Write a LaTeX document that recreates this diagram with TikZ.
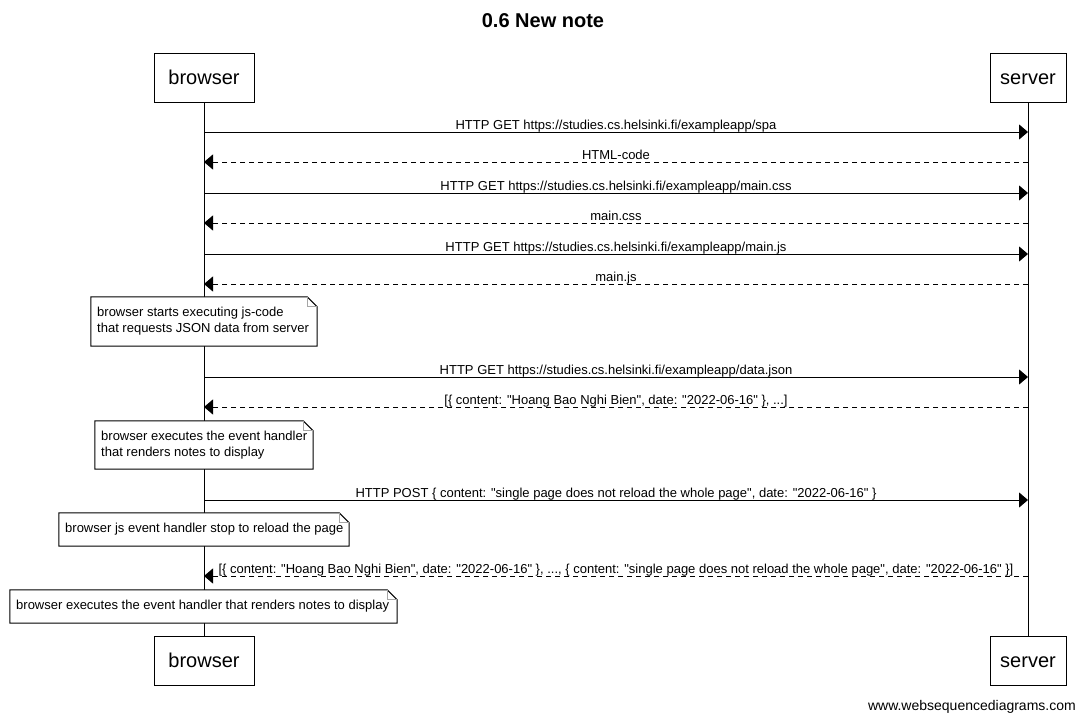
\documentclass[tikz,border=0pt]{standalone}
\usepackage{fontspec}
\setmainfont{Liberation Sans}
\usetikzlibrary{arrows.meta}
\newcommand{\dq}{\textquotedbl}
\tikzset{
  x=1pt, y=-1pt,
  every node/.style={font=\fontsize{13}{16}\selectfont, inner sep=0pt},
  actor/.style={draw, line width=1pt, minimum height=49pt, text height=17.5pt, text depth=4pt, font=\fontsize{20}{24}\selectfont},
  lifeline/.style={line width=1pt},
  msg/.style={line width=1pt, -{Triangle[length=9pt,width=15pt]}},
  reply/.style={msg, dash pattern=on 5pt off 4pt},
  lbl/.style={anchor=base},
  notebox/.style={align=left, inner xsep=6pt, anchor=center},
  noteline/.style={line width=1pt},
  fold/.style={line width=1pt, draw=gray!70}
}
\newcommand{\notebox}[1]{%
  \draw[noteline, fill=white] (#1.north west) -- ([xshift=-10pt]#1.north east) -- ([yshift=-10pt]#1.north east) -- (#1.south east) -- (#1.south west) -- cycle;
  \draw[fold] ([xshift=-10pt]#1.north east) -- ([xshift=-10pt,yshift=-10pt]#1.north east) -- ([yshift=-10pt]#1.north east);
}
\begin{document}
\begin{tikzpicture}
\useasboundingbox[fill=white] (0,0) rectangle (1086,720);
\node[font=\bfseries\fontsize{20}{24}\selectfont] (title) at (543,21) {0.6 New note};
% participants
\node[actor, minimum width=100pt] (b1) at (204,77.5) {browser};
\node[actor, minimum width=76pt] (s1) at (1028,77.5) {server};
\node[actor, minimum width=100pt] (b2) at (204,660.5) {browser};
\node[actor, minimum width=76pt] (s2) at (1028,660.5) {server};
\draw[lifeline] (b1) -- (b2);
\draw[lifeline] (s1) -- (s2);
% message end points
\foreach \i/\y in {1/132,2/162,3/193,4/223,5/254,6/284,7/377,8/407,9/500,10/576}{
  \coordinate (bp\i) at (204,\y);
  \coordinate (sp\i) at (1028,\y);
}
\draw[msg] (bp1) -- (sp1);
\node[lbl] (l1) at (616,129.5) {HTTP GET https://studies.cs.helsinki.fi/exampleapp/spa};
\draw[reply] (sp2) -- (bp2);
\node[lbl] (l2) at (616,159.5) {HTML-code};
\draw[msg] (bp3) -- (sp3);
\node[lbl] (l3) at (616,190.5) {HTTP GET https://studies.cs.helsinki.fi/exampleapp/main.css};
\draw[reply] (sp4) -- (bp4);
\node[lbl] (l4) at (616,220.5) {main.css};
\draw[msg] (bp5) -- (sp5);
\node[lbl] (l5) at (616,251.5) {HTTP GET https://studies.cs.helsinki.fi/exampleapp/main.js};
\draw[reply] (sp6) -- (bp6);
\node[lbl] (l6) at (616,281.5) {main.js};
% note 1
\node[notebox, minimum width=226pt, minimum height=49pt] (n1) at (204,321.5) {\phantom{x}};
\notebox{n1}
\node[anchor=west, align=left] (t1) at (97,321.5) {browser starts executing js-code\\that requests JSON data from server};
\draw[msg] (bp7) -- (sp7);
\node[lbl] (l7) at (616,374.5) {HTTP GET https://studies.cs.helsinki.fi/exampleapp/data.json};
\draw[reply] (sp8) -- (bp8);
\node[lbl] (l8) at (616,404.5) {[\{ content: \dq Hoang Bao Nghi Bien\dq, date: \dq 2022-06-16\dq\ \}, ...]};
% note 2
\node[notebox, minimum width=218pt, minimum height=48pt] (n2) at (204,445) {\phantom{x}};
\notebox{n2}
\node[anchor=west, align=left] (t2) at (101,445) {browser executes the event handler\\that renders notes to display};
\draw[msg] (bp9) -- (sp9);
\node[lbl] (l9) at (616,497.5) {HTTP POST \{ content: \dq single page does not reload the whole page\dq, date: \dq 2022-06-16\dq\ \}};
% note 3
\node[notebox, minimum width=290pt, minimum height=33pt] (n3) at (204,529.5) {\phantom{x}};
\notebox{n3}
\node[anchor=west] (t3) at (65,529.5) {browser js event handler stop to reload the page};
\draw[reply] (sp10) -- (bp10);
\node[lbl] (l10) at (616,573.5) {[\{ content: \dq Hoang Bao Nghi Bien\dq, date: \dq 2022-06-16\dq\ \}, ..., \{ content: \dq single page does not reload the whole page\dq, date: \dq 2022-06-16\dq\ \}]};
% note 4
\node[notebox, minimum width=387pt, minimum height=33pt] (n4) at (203.5,606.5) {\phantom{x}};
\notebox{n4}
\node[anchor=west] (t4) at (16,606.5) {browser executes the event handler that renders notes to display};
\node[anchor=base east, font=\fontsize{14}{16}\selectfont] (wm) at (1076,710) {www.websequencediagrams.com};
\end{tikzpicture}
\end{document}
